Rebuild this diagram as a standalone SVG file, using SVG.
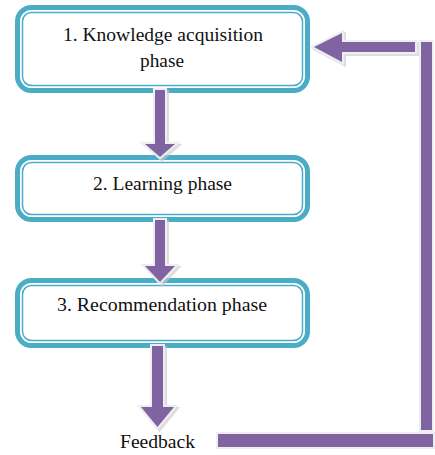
<svg xmlns="http://www.w3.org/2000/svg" width="435" height="455" viewBox="0 0 435 455">
<style>
.outer{fill:#ffffff;stroke:#4BACC6;stroke-width:5}
.inner{fill:none;stroke:#4BACC6;stroke-width:1.5}
.arr{fill:#8064A2;stroke:#EEEEF2;stroke-width:4;stroke-linejoin:miter;paint-order:stroke}
.sh{fill:#C9C9CE;stroke:#C9C9CE;stroke-width:4;opacity:0.6}
.t{font-family:'Liberation Serif','DejaVu Serif','Times New Roman',serif;font-size:18px;fill:#111}
</style>
<rect width="435" height="455" fill="#ffffff"/>
<g id="node1">
<rect class="outer" x="17.5" y="7.5" width="290" height="83" rx="14"/>
<rect class="inner" x="22.5" y="12.5" width="280" height="73" rx="9"/>
<text class="t" x="63" y="41" textLength="200" lengthAdjust="spacingAndGlyphs">1. Knowledge acquisition</text>
<text class="t" x="140" y="67" textLength="44" lengthAdjust="spacingAndGlyphs">phase</text>
</g>
<g id="node2">
<rect class="outer" x="17.5" y="157.5" width="290" height="62" rx="14"/>
<rect class="inner" x="22.5" y="162.5" width="280" height="52" rx="9"/>
<text class="t" x="93" y="190" textLength="139" lengthAdjust="spacingAndGlyphs">2. Learning phase</text>
</g>
<g id="node3">
<rect class="outer" x="17.5" y="280.5" width="290" height="65" rx="14"/>
<rect class="inner" x="22.5" y="285.5" width="280" height="55" rx="9"/>
<text class="t" x="57" y="311" textLength="210" lengthAdjust="spacingAndGlyphs">3. Recommendation phase</text>
</g>
<g id="feedback">
<text class="t" x="120" y="448" textLength="75" lengthAdjust="spacingAndGlyphs">Feedback</text>
</g>
<g id="connectors">
<path class="sh" d="M157,92 H167 V146 H177 L162,159 L147,146 H157 Z"/>
<path class="arr" d="M155,90 H165 V144 H175 L160,157 L145,144 H155 Z"/>
<path class="sh" d="M157,222 H167 V268 H177 L162,284 L147,268 H157 Z"/>
<path class="arr" d="M155,220 H165 V266 H175 L160,282 L145,266 H155 Z"/>
<path class="sh" d="M154,348 H165 V409 H176 L159.5,429 L143,409 H154 Z"/>
<path class="arr" d="M152,346 H163 V407 H174 L157.5,427 L141,407 H152 Z"/>
<rect class="arr" x="218" y="434" width="215" height="13"/>
<rect class="arr" x="421" y="42" width="11" height="388"/>
<path class="sh" d="M417,44 H344 V35 L316,49 L344,64 V54 H417 Z"/>
<path class="arr" d="M415,42 H342 V33 L314,47 L342,62 V52 H415 Z"/>
</g>
</svg>
